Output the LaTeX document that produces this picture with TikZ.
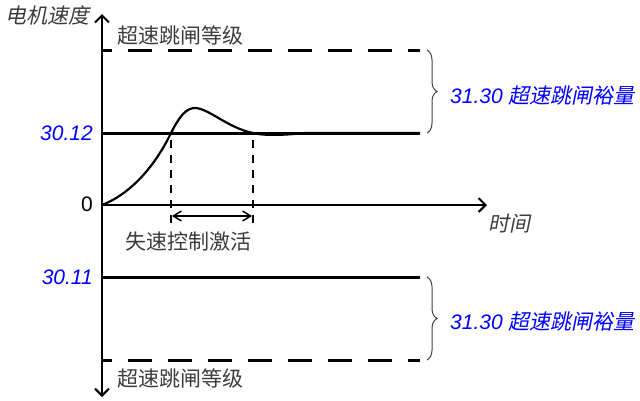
\documentclass[tikz,border=0pt]{standalone}
\usepackage{fontspec}
\setmainfont{Liberation Sans}
\newfontfamily\cjk{Noto Sans CJK SC}
\newfontfamily\cjkit[FakeSlant=0.2]{Noto Sans CJK SC}
\usetikzlibrary{arrows.meta,decorations.pathreplacing}
\definecolor{pblue}{RGB}{0,0,255}
\definecolor{tgray}{RGB}{60,60,60}
\tikzset{
  axis/.style={line width=2pt},
  levelline/.style={line width=3pt},
  levdash/.style={line width=3pt, dash pattern=on 24pt off 16pt, dash phase=14pt},
  vdash/.style={line width=1.6pt, dash pattern=on 8pt off 7pt},
  bracestyle/.style={decorate, decoration={brace, amplitude=10pt}, line width=1pt, draw=black!75},
  cjklab/.style={inner sep=0pt, text=tgray, font=\fontsize{21}{24}\selectfont\cjk},
  cjkitlab/.style={inner sep=0pt, text=tgray, font=\fontsize{21}{24}\selectfont\cjkit},
  numlab/.style={inner sep=0pt, text=pblue, font=\fontsize{21}{24}\selectfont\itshape},
  bluelab/.style={inner sep=0pt, text=pblue, font=\fontsize{21}{24}\selectfont},
}
\begin{document}
\begin{tikzpicture}[x=1pt,y=-1pt]
\useasboundingbox (0,0) rectangle (640,400);
% coordinates
\coordinate (ytop) at (102,14);
\coordinate (ybot) at (102,397);
\coordinate (orig) at (102,205);
\coordinate (xend) at (487,205);
\coordinate (u1) at (102,50);
\coordinate (u2) at (420,50);
\coordinate (s1) at (102,133);
\coordinate (s2) at (420,133);
\coordinate (l1) at (102,277);
\coordinate (l2) at (420,277);
\coordinate (d1) at (102,360);
\coordinate (d2) at (420,360);
\coordinate (va1) at (171,140);
\coordinate (va2) at (171,224);
\coordinate (vb1) at (253,140);
\coordinate (vb2) at (253,224);
\coordinate (ha) at (172,216);
\coordinate (hb) at (252,216);
\coordinate (bu1) at (427,50);
\coordinate (bu2) at (427,133);
\coordinate (bl1) at (427,277);
\coordinate (bl2) at (427,360);
% axes
\draw[axis, {Straight Barb[length=7pt,width=14pt]}-{Straight Barb[length=7pt,width=14pt]}] (ytop) -- (ybot);
\draw[axis, -{Straight Barb[length=7pt,width=14pt]}] (orig) -- (xend);
% level lines
\draw[levdash] (u1) -- (u2);
\draw[levelline] (s1) -- (s2);
\draw[levelline] (l1) -- (l2);
\draw[levdash] (d1) -- (d2);
% speed curve
\draw[line width=2.2pt] (orig) .. controls (135,192) and (158,160) .. (171,133)
  .. controls (179,117) and (186,108) .. (195,108)
  .. controls (208,108) and (228,128) .. (253,133)
  .. controls (265,136) and (285,135) .. (305,133) -- (s2);
% dashed verticals
\draw[vdash] (va1) -- (va2);
\draw[vdash] (vb1) -- (vb2);
\draw[line width=1.5pt, {Straight Barb[length=8pt,width=10pt]}-{Straight Barb[length=8pt,width=10pt]}] (ha) -- (hb);
% braces
\draw[bracestyle] (bu1) -- (bu2);
\draw[bracestyle] (bl1) -- (bl2);
% labels
\node[cjkitlab, anchor=west] (ylab) at (5,15) {电机速度};
\node[cjklab] (toplab) at (180,35) {超速跳闸等级};
\node[cjklab] (botlab) at (180,378) {超速跳闸等级};
\node[numlab, anchor=east] (n3012) at (93,133) {30.12};
\node[numlab, anchor=east] (n3011) at (93,277) {30.11};
\node[inner sep=0pt, font=\fontsize{21}{24}\selectfont, anchor=east] (zero) at (93,204) {0};
\node[cjkitlab] (tlab) at (509,224) {时间};
\node[cjklab] (stall) at (188,242) {失速控制激活};
\node[bluelab, anchor=west] (m1) at (450,96) {\itshape 31.30 {\cjkit 超速跳闸裕量}};
\node[bluelab, anchor=west] (m2) at (450,322) {\itshape 31.30 {\cjkit 超速跳闸裕量}};
\end{tikzpicture}
\end{document}
